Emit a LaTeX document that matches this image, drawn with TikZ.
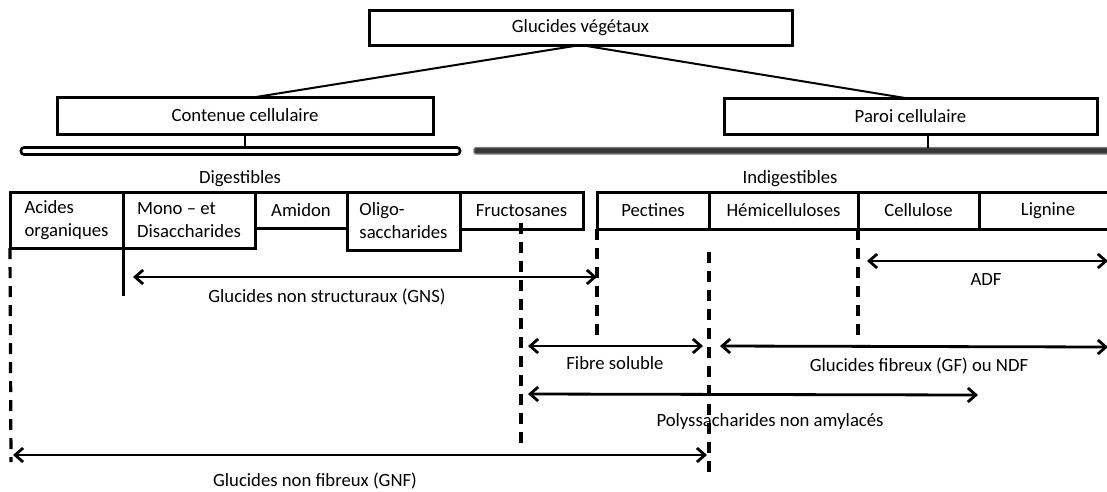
\documentclass[tikz,border=0pt]{standalone}
\usepackage{fontspec}
\setmainfont{Carlito}
\usetikzlibrary{arrows.meta}
\newcommand\dgfont{\fontsize{18.7}{23}\selectfont}
\begin{document}
\begin{tikzpicture}[x=1pt,y=-1pt,
  box/.style={draw, line width=3pt, outer sep=0pt, inner sep=0pt, anchor=north west, align=center, font=\dgfont},
  lbl/.style={font=\dgfont, inner sep=0pt},
  stem/.style={line width=1.4pt},
  link/.style={line width=2pt},
  dsh/.style={line width=3.2pt, dash pattern=on 11pt off 8pt},
  dbl/.style={line width=2.8pt, {Straight Barb[length=8pt,width=14pt]}-{Straight Barb[length=8pt,width=14pt]}}
]
\useasboundingbox (0,0) rectangle (1107,491);
\fill[white] (0,0) rectangle (1107,491);
\clip (0,0) rectangle (1107,491);

% top level
\node[box, minimum width=423pt, minimum height=35pt] (top) at (369,10) {\raisebox{-1pt}{Glucides végétaux}};
\node[box, minimum width=376pt, minimum height=37pt] (cont) at (57,97) {Contenue cellulaire};
\node[box, minimum width=373pt, minimum height=36pt] (paroi) at (724,98) {Paroi cellulaire};
\coordinate (contTop) at (256,97);
\coordinate (paroiTop) at (905,98);
\draw[link] (top.south) -- (contTop);
\draw[link] (top.south) -- (paroiTop);

% bars
\node[draw, line width=2.6pt, fill=white, rounded corners=3pt, minimum width=439pt, minimum height=7pt, inner sep=0pt, outer sep=0pt, anchor=north west] (wbar) at (21,147.5) {};
\node[draw=gray, line width=1.2pt, fill=black!78, rounded corners=1.5pt, minimum width=645pt, minimum height=6.5pt, inner sep=0pt, outer sep=0pt, anchor=north west] (dbar) at (474,147.5) {};
\draw[stem] (cont.south) -- (cont.south |- wbar.north);
\coordinate (paroiStem) at (928,135);
\draw[stem] (paroiStem) -- (paroiStem |- dbar.north);

\node[lbl] (dig) at (240,179) {Digestibles};
\node[lbl] (indig) at (790,179) {Indigestibles};

% row of boxes
\node[box, minimum width=113pt, minimum height=56pt, align=left] (acides) at (10,192) {Acides\\organiques};
\node[box, minimum width=132pt, minimum height=56pt, align=left] (mono) at (123,192) {Mono – et\\Disaccharides};
\node[box, minimum width=92pt, minimum height=36pt] (amidon) at (255,192) {Amidon};
\node[box, minimum width=113pt, minimum height=58pt, align=left] (oligo) at (347,192) {Oligo-\\saccharides};
\node[box, minimum width=123pt, minimum height=37pt] (fructo) at (460,192) {Fructosanes};
\node[box, minimum width=112pt, minimum height=37pt] (pect) at (597,192) {Pectines};
\node[box, minimum width=149pt, minimum height=37pt] (hemi) at (709,192) {Hémicelluloses};
\node[box, minimum width=121pt, minimum height=37pt] (cellu) at (858,192) {Cellulose};
\node[box, minimum width=138pt, minimum height=37pt] (lign) at (979,192) {Lignine};

% vertical guide lines
\coordinate (d1b) at (11,462);
\draw[dsh] (acides.south west) -- (d1b);
\coordinate (monoEnd) at (123,296);
\draw[line width=3pt] (mono.south west) -- (monoEnd);
\coordinate (d2t) at (521,223);
\coordinate (d2b) at (521,443);
\draw[dsh] (d2t) -- (d2b);
\coordinate (d3b) at (597,343);
\draw[dsh] (pect.south west) -- (d3b);
\coordinate (d4t) at (709,252);
\coordinate (d4b) at (709,472);
\draw[dsh] (d4t) -- (d4b);
\coordinate (d5b) at (858,343);
\draw[dsh] (cellu.south west) -- (d5b);

% arrows
\coordinate (gnsL) at (133,277);
\coordinate (gnsR) at (597,277);
\draw[dbl] (gnsL) -- (gnsR);
\node[lbl] (gns) at (327,297) {Glucides non structuraux (GNS)};

\coordinate (adfL) at (867,261);
\coordinate (adfR) at (1108,261);
\draw[dbl] (adfL) -- (adfR);
\node[lbl] (adf) at (986,279) {ADF};

\coordinate (fsL) at (528,346);
\coordinate (fsR) at (703,346);
\draw[dbl] (fsL) -- (fsR);
\node[lbl] (fs) at (615,363) {Fibre soluble};

\coordinate (gfL) at (720,346);
\coordinate (gfR) at (1108,347);
\draw[dbl] (gfL) -- (gfR);
\node[lbl] (gf) at (919,366) {Glucides fibreux (GF) ou NDF};

\coordinate (pnaL) at (528,394);
\coordinate (pnaR) at (978,395);
\draw[dbl] (pnaL) -- (pnaR);
\node[lbl] (pna) at (770,422) {Polyssacharides non amylacés};

\coordinate (gnfL) at (13,455);
\coordinate (gnfR) at (707,455);
\draw[dbl] (gnfL) -- (gnfR);
\node[lbl] (gnf) at (315,481) {Glucides non fibreux (GNF)};
\end{tikzpicture}
\end{document}
